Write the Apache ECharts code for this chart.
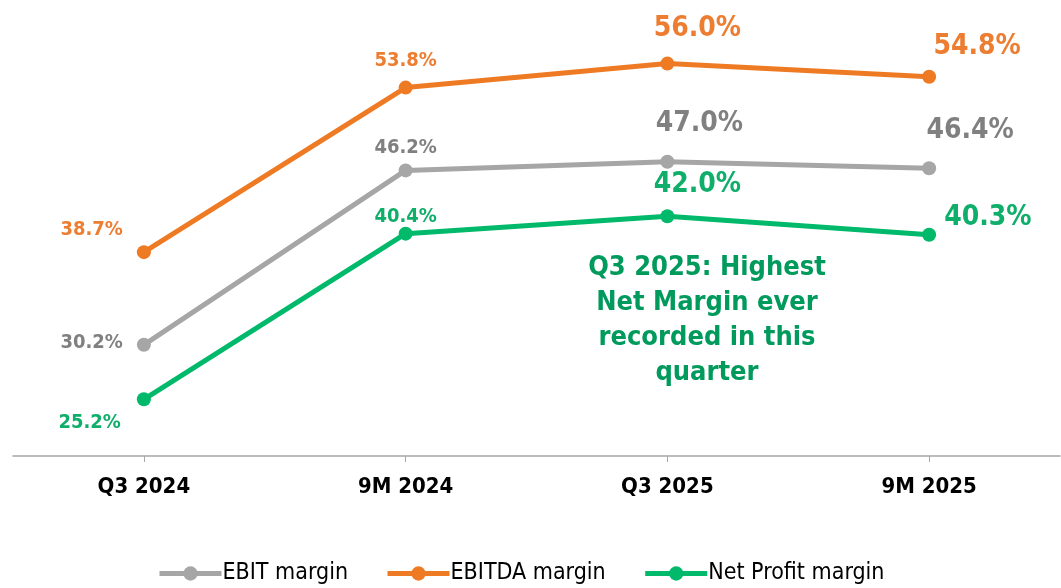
<!DOCTYPE html>
<html>
<head>
<meta charset="utf-8">
<script src="https://cdn.jsdelivr.net/npm/echarts@6/dist/echarts.min.js"></script>
<style>
  html, body { margin: 0; padding: 0; background: #fff; }
  #chart { width: 1061px; height: 588px; }
</style>
</head>
<body>
<div id="chart"></div>
<script>
var categories = ["Q3 2024", "9M 2024", "Q3 2025", "9M 2025"];
var ebitMargin = [30.2, 46.2, 47.0, 46.4];
var ebitdaMargin = [38.7, 53.8, 56.0, 54.8];
var netMargin = [25.2, 40.4, 42.0, 40.3];
var note = "Q3 2025: Highest\nNet Margin ever\nrecorded in this\nquarter";

var FONT = "'DejaVu Sans Condensed', 'DejaVu Sans', sans-serif";

// label placement per point (style only)
var ebitLabels = [
  { position: "left", distance: 14, fontSize: 20, offset: [0, -2] },
  { position: "top", distance: 6, fontSize: 20, offset: [0, 0] },
  { position: "top", distance: 17, fontSize: 28, offset: [32, 0] },
  { position: "top", distance: 17, fontSize: 28, offset: [41, 0] }
];
var ebitdaLabels = [
  { position: "left", distance: 14, fontSize: 20, offset: [0, -22] },
  { position: "top", distance: 10, fontSize: 20, offset: [0, 0] },
  { position: "top", distance: 14, fontSize: 28, offset: [30, 0] },
  { position: "top", distance: 9, fontSize: 28, offset: [48, 0] }
];
var netLabels = [
  { position: "left", distance: 16, fontSize: 20, offset: [0, 23] },
  { position: "top", distance: 0, fontSize: 20, offset: [0, 0] },
  { position: "top", distance: 10, fontSize: 28, offset: [30, 0] },
  { position: "right", distance: 8, fontSize: 28, offset: [0, -17] }
];

function withLabels(values, labels, color) {
  return values.map(function (v, i) {
    var l = labels[i];
    return {
      value: v,
      label: {
        show: true,
        position: l.position,
        distance: l.distance,
        offset: l.offset,
        fontSize: l.fontSize,
        fontWeight: "bold",
        fontFamily: FONT,
        color: color,
        formatter: function (p) { return p.value.toFixed(1) + "%"; }
      }
    };
  });
}

var chart = echarts.init(document.getElementById("chart"));
var option = {
  animation: false,
  grid: { left: 13, right: 1, top: 20, bottom: 132 },
  xAxis: {
    type: "category",
    data: categories,
    axisLine: { lineStyle: { color: "#a6a6a6", width: 1.5 } },
    axisTick: { show: true, alignWithLabel: true, length: 6, lineStyle: { color: "#a6a6a6" } },
    axisLabel: { color: "#000", fontSize: 22, fontWeight: "bold", fontFamily: FONT, margin: 20 }
  },
  yAxis: {
    type: "value",
    min: 20,
    max: 60,
    show: false,
    splitLine: { show: false }
  },
  legend: {
    bottom: -2,
    left: 152,
    itemWidth: 62,
    itemHeight: 18,
    itemGap: 37,
    lineStyle: { width: 5 },
    textStyle: { fontSize: 23, color: "#000", fontFamily: FONT, padding: [0, 0, 0, -4] },
    data: ["EBIT margin", "EBITDA margin", "Net Profit margin"]
  },
  series: [
    {
      name: "EBIT margin",
      type: "line",
      data: withLabels(ebitMargin, ebitLabels, "#808080"),
      symbol: "circle",
      symbolSize: 14,
      lineStyle: { width: 5, color: "#a6a6a6" },
      itemStyle: { color: "#a6a6a6" }
    },
    {
      name: "EBITDA margin",
      type: "line",
      data: withLabels(ebitdaMargin, ebitdaLabels, "#ed7d31"),
      symbol: "circle",
      symbolSize: 14,
      lineStyle: { width: 5, color: "#ef7a24" },
      itemStyle: { color: "#ef7a24" }
    },
    {
      name: "Net Profit margin",
      type: "line",
      data: withLabels(netMargin, netLabels, "#0fae6a"),
      symbol: "circle",
      symbolSize: 14,
      lineStyle: { width: 5, color: "#00b96b" },
      itemStyle: { color: "#00b96b" }
    }
  ],
  graphic: [
    {
      type: "text",
      x: 707,
      y: 250,
      style: {
        text: note,
        fill: "#009a5c",
        font: "bold 27px " + FONT,
        align: "center",
        verticalAlign: "top",
        lineHeight: 35
      }
    }
  ]
};
chart.setOption(option);
window.onresize = function () {
  chart.resize();
};
</script>
</body>
</html>
